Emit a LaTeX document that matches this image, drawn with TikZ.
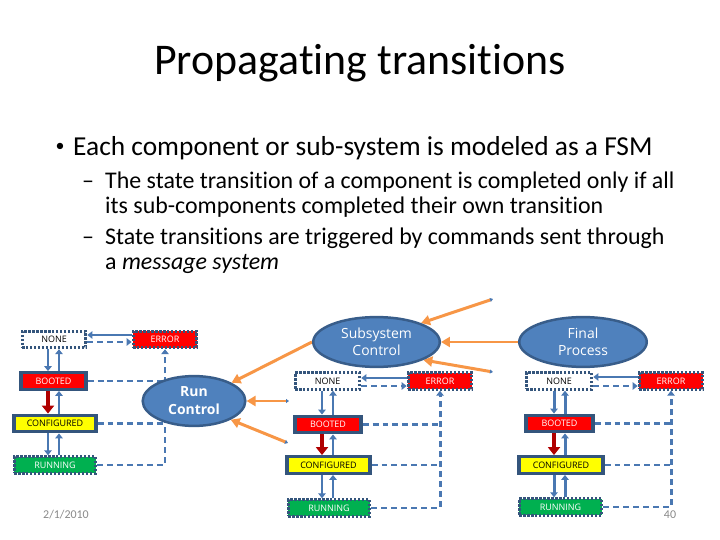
\documentclass[tikz,border=0pt]{standalone}
\usepackage{fontspec}
\setmainfont{Carlito}[Ligatures=CommonOff]
\newfontfamily\diafont{Open Sans}
\usetikzlibrary{arrows.meta,shapes.geometric,calc}
\definecolor{blueA}{HTML}{4A78B2}
\definecolor{blueB}{HTML}{385D8A}
\definecolor{boxB}{HTML}{34557C}
\definecolor{orangeA}{HTML}{F79646}
\definecolor{redA}{HTML}{FF0000}
\definecolor{yellowA}{HTML}{FFFF00}
\definecolor{greenA}{HTML}{00B050}
\definecolor{darkredA}{HTML}{B00000}
\definecolor{grayT}{HTML}{898989}
\definecolor{ellF}{HTML}{4F81BD}
\pgfdeclarelayer{bg}
\pgfsetlayers{bg,main}
\tikzset{
 st/.style={draw=boxB, line width=3, minimum height=16.5, inner sep=0, font=\diafont\fontsize{9}{10}\selectfont},
 dotst/.style={st, dash pattern=on 2.4pt off 1.6pt},
 nonest/.style={dotst, fill=white, text=black},
 errst/.style={dotst, fill=redA, text=white},
 bootst/.style={st, fill=redA, text=white, line width=3.4},
 confst/.style={st, fill=yellowA, text=black, line width=3.4},
 runst/.style={dotst, fill=greenA, text=white},
 ell/.style={ellipse, draw=blueB, line width=2.5, fill=ellF, text=white, inner sep=0, minimum height=50, align=center, font=\diafont\fontsize{14}{17}\selectfont},
 tr/.style={draw=blueA, line width=3, -{Triangle[length=5,width=7.5]}},
 trd/.style={tr, dash pattern=on 6pt off 4pt},
 dl/.style={draw=blueA, line width=3, dash pattern=on 6pt off 4pt},
 bigarr/.style={draw=darkredA, line width=5, -{Triangle[length=8,width=12]}},
 oarr/.style={draw=orangeA, line width=3, {Triangle[length=3,width=4,color=blueA]}-{Triangle[length=9,width=10]}},
 oarrn/.style={draw=orangeA, line width=3, -{Triangle[length=9,width=10]}},
 subtxt/.style={anchor=base west, inner sep=0, font=\fontsize{24}{29}\selectfont},
}
\begin{document}
\begin{tikzpicture}[x=1bp,y=-1bp]
\useasboundingbox (0,0) rectangle (720,540);
% texts
\node[anchor=base, inner sep=0, font=\fontsize{44}{52}\selectfont] (title) at (360,75) {Propagating transitions};
\node[anchor=base, inner sep=0, font=\fontsize{18}{20}\selectfont] (bul) at (60,152) {•};
\node[anchor=base west, inner sep=0, font=\fontsize{27.5}{32}\selectfont] (b1) at (73,156) {Each component or sub-system is modeled as a FSM};
\node[subtxt] (d1) at (82,189) {–};
\node[subtxt] (s1) at (105,189) {The state transition of a component is completed only if all};
\node[subtxt] (s2) at (105,214) {its sub-components completed their own transition};
\node[subtxt] (d2) at (82,245) {–};
\node[subtxt] (s3) at (105,245) {State transitions are triggered by commands sent through};
\node[subtxt] (s4) at (105,270) {a \textit{message system}};
\node[text=grayT, font=\fontsize{12}{14}\selectfont] (date) at (66,515) {2/1/2010};
\node[text=grayT, font=\fontsize{12}{14}\selectfont] (page) at (670,515) {40};

% left FSM
\node[nonest, minimum width=64] (Lnone) at (54,339.5) {NONE};
\node[errst, minimum width=64] (Lerr) at (165,339.5) {ERROR};
\node[bootst, minimum width=65] (Lboot) at (53.5,381) {BOOTED};
\node[confst, minimum width=82] (Lconf) at (55,423.5) {CONFIGURED};
\node[runst, minimum width=82] (Lrun) at (55,465) {RUNNING};
\node[ell, minimum width=103, font=\diafont\bfseries\fontsize{14}{18}\selectfont] (rc) at (194,401) {Run\\Control};
% middle FSM
\node[nonest, minimum width=65] (Mnone) at (327.5,381) {NONE};
\node[errst, minimum width=64] (Merr) at (440,381) {ERROR};
\node[bootst, minimum width=66] (Mboot) at (328,424.5) {BOOTED};
\node[confst, minimum width=83] (Mconf) at (328.5,465) {CONFIGURED};
\node[runst, minimum width=82] (Mrun) at (329,508) {RUNNING};
\node[ell, minimum width=127] (sc) at (376.5,342) {Subsystem\\Control};
% right FSM
\node[nonest, minimum width=66] (Rnone) at (559,381) {NONE};
\node[errst, minimum width=64] (Rerr) at (671,381) {ERROR};
\node[bootst, minimum width=67] (Rboot) at (559.5,423.5) {BOOTED};
\node[confst, minimum width=84] (Rconf) at (561,465) {CONFIGURED};
\node[runst, minimum width=83] (Rrun) at (560.5,507) {RUNNING};
\node[ell, minimum width=128] (fp) at (583,342) {Final\\Process};

\coordinate (La) at (48,0); \coordinate (Lb) at (59,0);
\coordinate (Lr1) at (0,335); \coordinate (Lr2) at (0,342);
\coordinate (Ma) at (322,0); \coordinate (Mb) at (333,0);
\coordinate (Mr1) at (0,378); \coordinate (Mr2) at (0,386);
\coordinate (Ra) at (554,0); \coordinate (Rb) at (565,0);
\coordinate (Rr1) at (0,377); \coordinate (Rr2) at (0,386);
\coordinate (t1) at (289,401);
\coordinate (t2) at (288,443);
\coordinate (t3) at (493,299);
\coordinate (t4) at (493,372);

\begin{pgfonlayer}{bg}
% left
\draw[tr] (Lnone.south -| La) -- (Lboot.north -| La);
\draw[tr] (Lboot.north -| Lb) -- (Lnone.south -| Lb);
\draw[bigarr] (Lboot.south -| La) -- (Lconf.north -| La);
\draw[tr] (Lconf.north -| Lb) -- (Lboot.south -| Lb);
\draw[tr] (Lconf.south -| La) -- (Lrun.north -| La);
\draw[tr] (Lrun.north -| Lb) -- (Lconf.south -| Lb);
\draw[tr] (Lerr.west |- Lr1) -- (Lnone.east |- Lr1);
\draw[trd] (Lnone.east |- Lr2) -- (Lerr.west |- Lr2);
\draw[dl] (Lboot.east) -- (Lboot.east -| Lerr.south);
\draw[dl] (Lconf.east) -- (Lconf.east -| Lerr.south);
\draw[trd] (Lrun.east) -| (Lerr.south);
% middle
\draw[tr] (Mnone.south -| Ma) -- (Mboot.north -| Ma);
\draw[tr] (Mboot.north -| Mb) -- (Mnone.south -| Mb);
\draw[bigarr] (Mboot.south -| Ma) -- (Mconf.north -| Ma);
\draw[tr] (Mconf.north -| Mb) -- (Mboot.south -| Mb);
\draw[tr] (Mconf.south -| Ma) -- (Mrun.north -| Ma);
\draw[tr] (Mrun.north -| Mb) -- (Mconf.south -| Mb);
\draw[tr] (Merr.west |- Mr1) -- (Mnone.east |- Mr1);
\draw[trd] (Mnone.east |- Mr2) -- (Merr.west |- Mr2);
\draw[dl] (Mboot.east) -- (Mboot.east -| Merr.south);
\draw[dl] (Mconf.east) -- (Mconf.east -| Merr.south);
\draw[trd] (Mrun.east) -| (Merr.south);
% right
\draw[tr] (Rnone.south -| Ra) -- (Rboot.north -| Ra);
\draw[tr] (Rboot.north -| Rb) -- (Rnone.south -| Rb);
\draw[bigarr] (Rboot.south -| Ra) -- (Rconf.north -| Ra);
\draw[tr] (Rconf.north -| Rb) -- (Rboot.south -| Rb);
\draw[tr] (Rconf.south -| Ra) -- (Rrun.north -| Ra);
\draw[tr] (Rrun.north -| Rb) -- (Rconf.south -| Rb);
\draw[tr] (Rerr.west |- Rr1) -- (Rnone.east |- Rr1);
\draw[trd] (Rnone.east |- Rr2) -- (Rerr.west |- Rr2);
\draw[dl] (Rboot.east) -- (Rboot.east -| Rerr.south);
\draw[dl] (Rconf.east) -- (Rconf.east -| Rerr.south);
\draw[trd] (Rrun.east) -| (Rerr.south);
% orange message arrows
\draw[oarrn] (sc.west) -- (rc.26);
\draw[oarr] (t1) -- (rc.east);
\draw[oarr] (t2) -- (rc.-27);
\draw[oarr] (t3) -- (sc.23);
\draw[oarrn] (fp.west) -- (sc.east);
\draw[oarr] (t4) -- (sc.-21);
\end{pgfonlayer}
\end{tikzpicture}
\end{document}
